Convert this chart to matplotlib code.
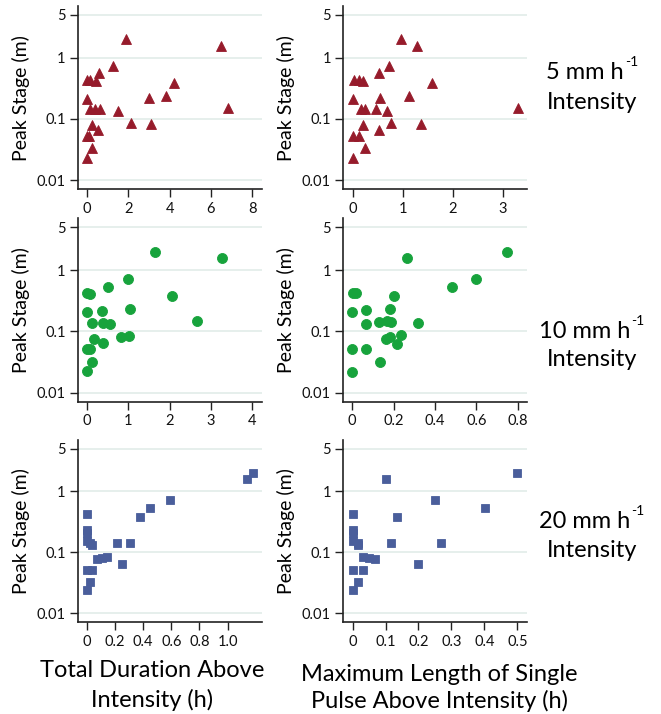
#!/usr/bin/env python3
"""Peak stage vs. duration above rainfall intensity, 3 intensities x 2 metrics."""

import matplotlib
matplotlib.use('Agg')
import matplotlib.pyplot as plt
from matplotlib.ticker import FixedLocator, NullLocator

plt.rcParams['font.family'] = ['Lato', 'DejaVu Sans']

# ---- data -----------------------------------------------------------------
# 5 mm/h: same events in both panels
stage_5 = [2.02, 1.57, 0.73, 0.56, 0.43, 0.43, 0.42, 0.39, 0.237, 0.223, 0.214, 0.153,
           0.145, 0.144, 0.145, 0.135, 0.087, 0.083, 0.079, 0.066, 0.053, 0.053, 0.033, 0.023]
total_5 = [1.88, 6.5, 1.26, 0.58, 0.0, 0.16, 0.45, 4.21, 3.82, 2.98, 0.0, 6.83,
           0.16, 0.39, 0.62, 1.52, 2.14, 3.11, 0.23, 0.55, 0.0, 0.1, 0.26, 0.0]
pulse_5 = [0.973, 1.28, 0.733, 0.533, 0.027, 0.12, 0.213, 1.587, 1.12, 0.547, 0.0, 3.31,
           0.16, 0.247, 0.467, 0.68, 0.76, 1.36, 0.2, 0.52, 0.0, 0.133, 0.24, 0.0]

# 10 mm/h
total_10 = [1.65, 3.26, 1.0, 0.5, 0.0, 0.065, 2.05, 1.05, 0.36, 0.0, 2.67, 0.13,
            0.39, 0.55, 0.82, 1.02, 0.16, 0.39, 0.0, 0.08, 0.13, 0.0]
stage_10_total = [1.97, 1.55, 0.71, 0.53, 0.42, 0.41, 0.38, 0.233, 0.216, 0.206, 0.149, 0.139,
                  0.139, 0.132, 0.082, 0.085, 0.075, 0.064, 0.051, 0.051, 0.032, 0.0226]
pulse_10 = [0.745, 0.265, 0.6, 0.48, 0.003, 0.019, 0.2, 0.184, 0.068, 0.0, 0.068, 0.132,
            0.168, 0.187, 0.316, 0.165, 0.184, 0.235, 0.216, 0.0, 0.068, 0.135, 0.0]
stage_10_pulse = [1.97, 1.55, 0.71, 0.53, 0.42, 0.42, 0.38, 0.233, 0.22, 0.209, 0.13, 0.141,
                  0.149, 0.141, 0.138, 0.076, 0.08, 0.086, 0.063, 0.051, 0.051, 0.032, 0.022]

# 20 mm/h: same events in both panels
stage_20 = [2.02, 1.57, 0.72, 0.54, 0.385, 0.425, 0.233, 0.21, 0.15, 0.141, 0.131,
            0.144, 0.141, 0.077, 0.081, 0.085, 0.064, 0.0515, 0.0515, 0.033, 0.0236]
total_20 = [1.178, 1.14, 0.589, 0.447, 0.375, 0.0, 0.0, 0.0, 0.0, 0.019, 0.038,
            0.214, 0.304, 0.071, 0.11, 0.142, 0.247, 0.0, 0.033, 0.019, 0.0]
pulse_20 = [0.5, 0.101, 0.249, 0.401, 0.134, 0.0, 0.0, 0.0, 0.0, 0.016, 0.018,
            0.117, 0.267, 0.067, 0.05, 0.032, 0.2, 0.0, 0.032, 0.016, 0.0]

y_ticks = [0.01, 0.1, 1, 5]
y_tick_labels = ['0.01', '0.1', '1', '5']

x_ticks_5_total = [0, 2, 4, 6, 8]
x_ticks_5_pulse = [0, 1, 2, 3]
x_ticks_10_total = [0, 1, 2, 3, 4]
x_ticks_10_pulse = [0, 0.2, 0.4, 0.6, 0.8]
x_ticks_20_total = [0, 0.2, 0.4, 0.6, 0.8, 1.0]
x_ticks_20_pulse = [0, 0.1, 0.2, 0.3, 0.4, 0.5]
x_labels_10_pulse = ['0', '0.2', '0.4', '0.6', '0.8']
x_labels_20_total = ['0', '0.2', '0.4', '0.6', '0.8', '1.0']
x_labels_20_pulse = ['0', '0.1', '0.2', '0.3', '0.4', '0.5']

row_names = ['5 mm h', '10 mm h', '20 mm h']

# ---- styling ---------------------------------------------------------------
W, H = 661, 714
RED = '#961b2b'
GREEN = '#17a33c'
BLUE = '#4a5e9b'
GRID = '#e2ece9'
SPINE = '#222222'

COLS = [(78, 262), (343.3, 527.3)]
ROWS = [(6, 189.3), (218.3, 401.7), (439.7, 622.3)]


def rect(col, row):
    left, right = COLS[col]
    top, bottom = ROWS[row]
    return [left / W, 1 - bottom / H, (right - left) / W, (bottom - top) / H]


def panel(fig, col, row, x, y, marker, color, ms, xlim, xticks, xlabels=None):
    ax = fig.add_axes(rect(col, row))
    ax.set_yscale('log')
    ax.set_ylim(0.0071, 7.0)
    ax.set_xlim(*xlim)
    for t in y_ticks:
        ax.axhline(t, color=GRID, linewidth=1.2, zorder=0)
    ax.plot(x, y, linestyle='none', marker=marker, color=color, markersize=ms,
            markeredgecolor=color, markeredgewidth=0.6, zorder=3, clip_on=False)
    ax.yaxis.set_major_locator(FixedLocator(y_ticks))
    ax.yaxis.set_minor_locator(NullLocator())
    ax.set_yticklabels(y_tick_labels)
    ax.set_xticks(xticks)
    if xlabels is not None:
        ax.set_xticklabels(xlabels)
    else:
        ax.set_xticklabels([f'{t:g}' for t in xticks])
    for side in ('top', 'right'):
        ax.spines[side].set_visible(False)
    for side in ('left', 'bottom'):
        ax.spines[side].set_color(SPINE)
        ax.spines[side].set_linewidth(1.2)
    ax.tick_params(axis='both', length=6, width=1.0, color=SPINE, labelsize=10.5,
                   labelcolor='#111111', pad=3)
    ax.set_ylabel('Peak Stage (m)', fontsize=14, labelpad=5)
    ax.set_facecolor('none')
    return ax


fig = plt.figure(figsize=(W / 100, H / 100), dpi=100)

panel(fig, 0, 0, total_5, stage_5, '^', RED, 7.6, (-0.44, 8.47), x_ticks_5_total)
panel(fig, 1, 0, pulse_5, stage_5, '^', RED, 7.6, (-0.187, 3.49), x_ticks_5_pulse)
panel(fig, 0, 1, total_10, stage_10_total, 'o', GREEN, 7.2, (-0.218, 4.23), x_ticks_10_total)
panel(fig, 1, 1, pulse_10, stage_10_pulse, 'o', GREEN, 7.2, (-0.042, 0.845),
      x_ticks_10_pulse, x_labels_10_pulse)
panel(fig, 0, 2, total_20, stage_20, 's', BLUE, 5.6, (-0.064, 1.245),
      x_ticks_20_total, x_labels_20_total)
panel(fig, 1, 2, pulse_20, stage_20, 's', BLUE, 5.6, (-0.028, 0.53),
      x_ticks_20_pulse, x_labels_20_pulse)

# row labels on the right: "N mm h" with a small raised "-1", then "Intensity"
renderer = fig.canvas.get_renderer()
row_baselines = [(79, 109), (338, 366), (528, 557)]
for name, (y1, y2) in zip(row_names, row_baselines):
    main = fig.text(0, 1 - y1 / H, name, ha='left', va='baseline', fontsize=17)
    sup = fig.text(0, 1 - (y1 - 13) / H, '-1', ha='left', va='baseline', fontsize=10)
    w_main = main.get_window_extent(renderer).width
    w_sup = sup.get_window_extent(renderer).width
    x0 = 592 - (w_main + 1 + w_sup) / 2
    main.set_x(x0 / W)
    sup.set_x((x0 + w_main + 1) / W)
    fig.text(592 / W, 1 - y2 / H, 'Intensity', ha='center', va='baseline', fontsize=17)

# column x labels
fig.text(152 / W, 1 - 677 / H, 'Total Duration Above', ha='center', va='baseline', fontsize=17)
fig.text(152 / W, 1 - 707 / H, 'Intensity (h)', ha='center', va='baseline', fontsize=17)
fig.text(439 / W, 1 - 681 / H, 'Maximum Length of Single', ha='center', va='baseline', fontsize=17)
fig.text(439 / W, 1 - 708 / H, 'Pulse Above Intensity (h)', ha='center', va='baseline', fontsize=17)

fig.savefig('out.png', dpi=100, facecolor='white')
